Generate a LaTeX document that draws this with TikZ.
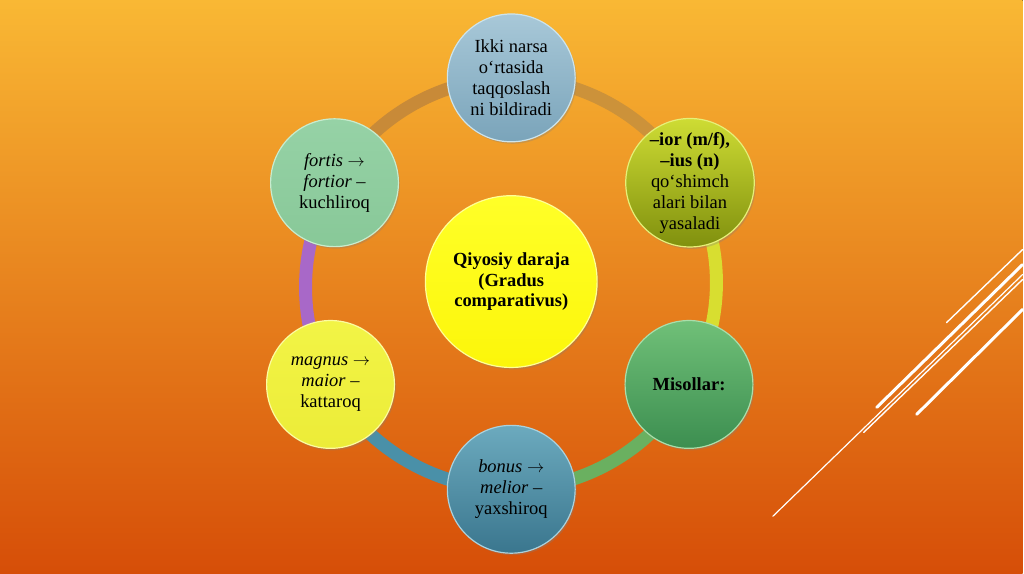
\documentclass[tikz,border=0pt]{standalone}
\usepackage{fontspec}
\setmainfont{Liberation Serif}
\usetikzlibrary{calc,positioning,shapes.geometric,shadows}
\pgfdeclarelayer{background}
\pgfdeclarelayer{ring}
\pgfsetlayers{background,ring,main}
% colours
\definecolor{bgtop}{RGB}{249,184,52}
\definecolor{bgmid}{RGB}{237,138,36}
\definecolor{bgbot}{RGB}{214,78,8}
\definecolor{segA}{RGB}{204,146,58}
\definecolor{segB}{RGB}{216,222,48}
\definecolor{segC}{RGB}{106,176,96}
\definecolor{segD}{RGB}{74,144,168}
\definecolor{segE}{RGB}{168,104,200}
\definecolor{segF}{RGB}{200,138,56}
\newcommand{\toarrow}{ $\rightarrow$}

\begin{document}
\begin{tikzpicture}[x=1pt,y=1pt]
\tikzset{
    bubble/.style={
       circle,
       minimum size=128pt,
       inner sep=0pt,
       align=center,
       text=black,
       line width=1.2pt,
       font=\fontsize{18.5}{21}\selectfont,
       drop shadow={opacity=0.3, shadow xshift=1.5pt, shadow yshift=-2pt}
    },
    ring/.style={
       line width=13pt,
       line cap=butt
    },
    streak/.style={
       white,
       line cap=round
    }
}
%
\begin{pgfonlayer}{background}
\fill[top color=bgtop, middle color=bgmid, bottom color=bgbot] (0,0) rectangle (1024,574);
\end{pgfonlayer}

% white streaks bottom right
\draw[streak, line width=1.4pt] (948,251) -- (1024,324);
\draw[streak, line width=3pt] (878,166) -- (1024,309);
\draw[streak, line width=1.4pt] (865,141) -- (1024,294);
\draw[streak, line width=1.2pt] (774,57) -- (1024,299);
\draw[streak, line width=3pt] (918,159) -- (1024,264);

% centre
\node[bubble, minimum size=172pt, font=\fontsize{18.5}{20.5}\selectfont\bfseries,
      top color={rgb,255:red,255;green,255;blue,40}, bottom color={rgb,255:red,252;green,246;blue,10},
      draw={rgb,255:red,255;green,255;blue,150}] (core) at (512,292)
      {Qiyosiy daraja\\(Gradus\\comparativus)};

% outer bubbles
\node[bubble, top color={rgb,255:red,168;green,200;blue,216}, bottom color={rgb,255:red,122;green,164;blue,186},
      draw={rgb,255:red,205;green,228;blue,236}] (top) at (512,496)
      {Ikki narsa\\o‘rtasida\\taqqoslash\\ni bildiradi};
\node[bubble, top color={rgb,255:red,206;green,220;blue,52}, bottom color={rgb,255:red,128;green,144;blue,14},
      draw={rgb,255:red,230;green,240;blue,120}] (tr) at (691,391)
      {\textbf{–ior (m/f),}\\\textbf{–ius (n)}\\qo‘shimch\\alari bilan\\yasaladi};
\node[bubble, top color={rgb,255:red,112;green,192;blue,120}, bottom color={rgb,255:red,60;green,142;blue,80},
      draw={rgb,255:red,170;green,222;blue,170}] (br) at (690,189)
      {\textbf{Misollar:}};
\node[bubble, top color={rgb,255:red,108;green,170;blue,190}, bottom color={rgb,255:red,58;green,118;blue,142},
      draw={rgb,255:red,170;green,210;blue,222}] (bot) at (512,84)
      {\textit{bonus}\toarrow\\\textit{melior} –\\yaxshiroq};
\node[bubble, top color={rgb,255:red,242;green,244;blue,70}, bottom color={rgb,255:red,236;green,236;blue,56},
      draw={rgb,255:red,252;green,252;blue,160}] (bl) at (331,189)
      {\textit{magnus}\toarrow\\\textit{maior} –\\kattaroq};
\node[bubble, top color={rgb,255:red,150;green,210;blue,166}, bottom color={rgb,255:red,136;green,200;blue,152},
      draw={rgb,255:red,200;green,236;blue,206}] (tl) at (335,391)
      {\textit{fortis}\toarrow\\\textit{fortior} –\\kuchliroq};

% ring pieces between the bubbles
\begin{pgfonlayer}{ring}
\draw[ring, segA] (top.center) to[bend left=30, looseness=0.91] (tr.center);
\draw[ring, segB] (tr.center) to[bend left=30, looseness=0.91] (br.center);
\draw[ring, segC] (br.center) to[bend left=30, looseness=0.91] (bot.center);
\draw[ring, segD] (bot.center) to[bend left=30, looseness=0.91] (bl.center);
\draw[ring, segE] (bl.center) to[bend left=30, looseness=0.91] (tl.center);
\draw[ring, segF] (tl.center) to[bend left=30, looseness=0.91] (top.center);
\end{pgfonlayer}
\end{tikzpicture}
\end{document}
